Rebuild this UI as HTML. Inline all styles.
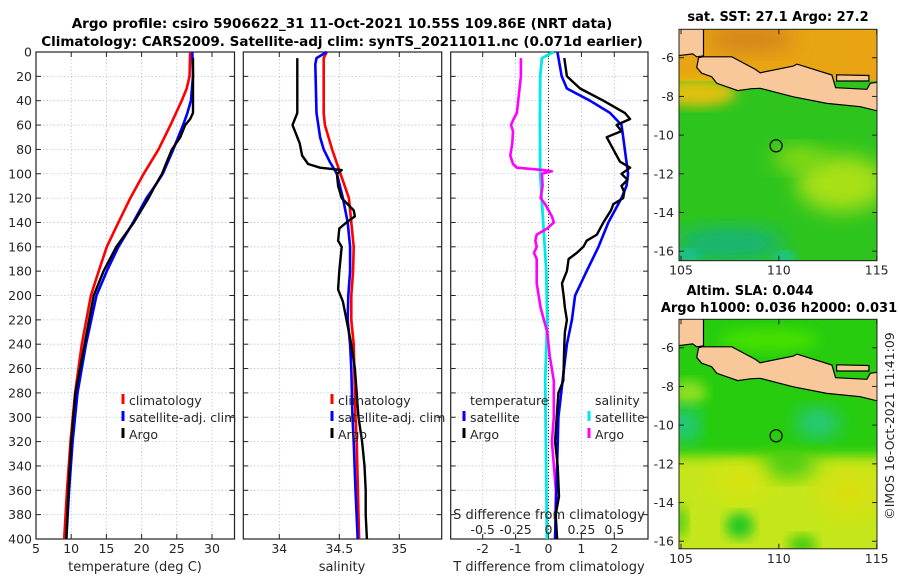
<!DOCTYPE html>
<html><head><meta charset="utf-8">
<style>
html,body{margin:0;padding:0;background:#fff;}
svg{display:block;font-family:"DejaVu Sans","Liberation Sans",sans-serif;}
</style></head>
<body>
<svg id="fig" width="900" height="580" viewBox="0 0 900 580" xmlns="http://www.w3.org/2000/svg">
<defs>
<filter id="blur6" x="-20%" y="-20%" width="140%" height="140%"><feGaussianBlur stdDeviation="6"/></filter>
<filter id="blur10" x="-30%" y="-30%" width="160%" height="160%"><feGaussianBlur stdDeviation="10"/></filter>
<clipPath id="clipTop"><rect x="679" y="29" width="198" height="232"/></clipPath>
<clipPath id="clipBot"><rect x="679" y="319" width="198" height="230"/></clipPath>
</defs>
<g id="titles" font-weight="bold" font-size="13.5" text-anchor="middle" fill="#000">
<text x="342" y="28">Argo profile: csiro 5906622_31 11-Oct-2021 10.55S 109.86E (NRT data)</text>
<text x="342" y="46">Climatology: CARS2009. Satellite-adj clim: synTS_20211011.nc (0.071d earlier)</text>
</g>
</svg>
<script>
// ---------- data ----------
const depthTicks = [0,20,40,60,80,100,120,140,160,180,200,220,240,260,280,300,320,340,360,380,400];
const tempTicks = [5,10,15,20,25,30];
const salTicks = [34,34.5,35];
const salTickLabels = ["34","34.5","35"];
const tdiffTicks = [-2,-1,0,1,2];
const sdiffTicks = [-0.5,-0.25,0,0.25,0.5];
const sdiffTickLabels = ["-0.5","-0.25","0","0.25","0.5"];

const tDepthClim = [0,20,30,40,60,80,100,120,140,160,180,200,240,280,320,360,400];
const tClim = [26.9,26.8,26.4,25.7,24.1,22.4,20.3,18.4,16.7,15.05,13.9,12.8,11.5,10.55,9.9,9.4,9.0];
const tDepthSat = [0,20,40,50,60,80,100,110,120,140,160,180,200,240,280,320,360,400];
const tSat = [27.2,27.3,27.0,26.5,25.9,24.5,23.0,21.9,20.7,18.8,16.7,15.05,13.6,12.1,10.9,10.2,9.7,9.3];
const tDepthArgo = [5,50,55,60,70,80,90,100,110,120,140,160,180,200,240,280,320,360,400];
const tArgo = [27.3,27.3,26.9,26.2,25.5,24.3,23.6,22.9,21.9,21.0,18.9,16.4,14.6,13.2,11.9,10.6,10.0,9.6,9.3];

const sDepthClim = [0,5,50,60,80,100,120,140,160,180,200,220,240,260,280,300,320,360,400];
const sClim = [34.395,34.37,34.37,34.38,34.44,34.51,34.58,34.60,34.62,34.615,34.60,34.60,34.62,34.625,34.63,34.635,34.645,34.655,34.665];
const sDepthSat = [0,5,10,50,70,80,90,100,120,140,160,180,200,220,240,260,280,300,320,360,400];
const sSat = [34.395,34.31,34.30,34.31,34.34,34.37,34.42,34.48,34.53,34.57,34.59,34.59,34.575,34.57,34.59,34.60,34.605,34.61,34.62,34.635,34.653];
const sDepthArgo = [5,50,55,60,65,75,85,92,95,97,100,110,120,130,135,140,145,155,160,180,195,205,220,240,260,280,300,320,340,360,380,400];
const sArgo = [34.15,34.15,34.13,34.11,34.13,34.17,34.19,34.24,34.34,34.52,34.48,34.49,34.52,34.62,34.63,34.56,34.50,34.49,34.52,34.50,34.49,34.53,34.56,34.60,34.63,34.645,34.66,34.69,34.71,34.72,34.72,34.73];

const dtDepthSat = [0,20,30,40,50,60,70,80,100,110,120,140,160,180,200,220,240,270,300,340,400];
const dtSat = [0.27,0.4,0.56,1.26,1.87,2.22,2.27,2.32,2.42,2.37,2.22,1.82,1.52,1.16,0.81,0.71,0.56,0.43,0.3,0.26,0.2];
const dtDepthArgo = [5,20,30,40,50,55,60,65,70,80,90,95,100,105,110,115,120,125,130,140,150,155,160,165,170,180,190,200,210,220,230,240,270,280,300,320,340,365,380,400];
const dtArgo = [0.48,0.56,0.96,1.67,2.32,2.48,2.07,2.22,1.77,1.97,2.17,2.48,2.22,2.4,2.22,2.3,2.27,1.97,1.9,1.67,1.47,1.16,1.06,0.86,0.61,0.56,0.41,0.46,0.5,0.56,0.5,0.48,0.45,0.3,0.25,0.2,0.28,0.32,0.22,0.26];
const dsDepthSat = [0,5,20,60,100,140,180,220,270,400];
const dsSat = [0.04,-0.05,-0.063,-0.065,-0.063,-0.04,-0.017,-0.01,-0.025,-0.012];
const dsDepthArgo = [5,20,40,50,55,60,65,75,85,92,95,97,98,100,110,120,125,135,140,145,150,155,160,165,170,190,210,230,250,270,300,320,360,400];
const dsArgo = [-0.21,-0.21,-0.23,-0.24,-0.265,-0.285,-0.27,-0.275,-0.29,-0.27,-0.24,-0.04,0.025,-0.05,-0.045,-0.06,-0.025,0.026,0.04,-0.01,-0.09,-0.1,-0.09,-0.11,-0.09,-0.09,-0.06,-0.01,0.01,0.04,0.04,0.026,0.056,0.05];

const lonTicks = [105,110,115];
const latTicks = [-6,-8,-10,-12,-14,-16];
const argoLon = 109.86;
const argoLat = -10.55;
const javaCoast = [[106.1,-5.95],[107.6,-5.95],[108.8,-6.6],[109.04,-6.78],[110.74,-6.43],[110.92,-6.33],[112.71,-6.89],[112.9,-7.55],[114.5,-7.63],[114.67,-7.32],[115.2,-7.24],[115.2,-8.79],[114.16,-8.53],[112.45,-8.36],[110.74,-8.02],[109.04,-7.58],[108.6,-7.6],[107.9,-7.7],[106.83,-7.32],[106.57,-6.98],[106.06,-6.8],[105.8,-6.5],[105.9,-6.0]];
const maduraCoast = [[112.95,-6.88],[114.6,-6.92],[114.6,-7.2],[112.95,-7.2]];
const sumatraCoast = [[104.8,-4.4],[106.15,-4.4],[106.15,-5.9],[105.8,-5.95],[105.6,-5.8],[104.8,-5.9]];

// ---------- helpers ----------
const NS = "http://www.w3.org/2000/svg";
const svg = document.getElementById('fig');
function mk(tag, attrs, parent){
  const e = document.createElementNS(NS, tag);
  for (const k in attrs) e.setAttribute(k, attrs[k]);
  (parent||svg).appendChild(e);
  return e;
}
const Y0 = 52, Y1 = 539;
function yD(d){ return Y0 + (d/400)*(Y1-Y0); }
function lin(v0,v1,p0,p1){ return v => p0 + (v-v0)/(v1-v0)*(p1-p0); }

const xT = lin(5,30,36,212);
const xS = lin(34,35,279.3,399.3);
const xTd = lin(-2,2,482.7,614.3);
const xSd = lin(-0.5,0.5,482.7,614.3);

function panel(name, x0, x1, xTickVals, xf, showDepthLabels){
  const g = mk('g', {});
  
  
  xTickVals.forEach(v => {
    const gl = mk('line', {x1:xf(v), x2:xf(v), y1:Y0, y2:Y1, stroke:'#b8c4e4', 'stroke-width':0.8, 'stroke-dasharray':'1.5,2'}, g);
    
    
  });
  depthTicks.forEach(d => {
    const gl = mk('line', {x1:x0, x2:x1, y1:yD(d), y2:yD(d), stroke:'#b8c4e4', 'stroke-width':0.8, 'stroke-dasharray':'1.5,2'}, g);
    
    
    mk('line', {x1:x0, x2:x0+5, y1:yD(d), y2:yD(d), stroke:'#222', 'stroke-width':1}, g);
    mk('line', {x1:x1-5, x2:x1, y1:yD(d), y2:yD(d), stroke:'#222', 'stroke-width':1}, g);
    if (showDepthLabels){
      const t = mk('text', {x:x0-4, y:yD(d)+4.5, 'text-anchor':'end', 'font-size':12.5, fill:'#262626'}, g);
      t.textContent = d;
      
      
    }
  });
  xTickVals.forEach(v => {
    mk('line', {x1:xf(v), x2:xf(v), y1:Y1, y2:Y1-5, stroke:'#222', 'stroke-width':1}, g);
    mk('line', {x1:xf(v), x2:xf(v), y1:Y0, y2:Y0+5, stroke:'#222', 'stroke-width':1}, g);
  });
  const fr = mk('rect', {x:x0, y:Y0, width:x1-x0, height:Y1-Y0, fill:'none', stroke:'#222', 'stroke-width':1.2}, g);
  
  
  return g;
}
function series(g, name, depths, vals, xf, color, w){
  const pts = depths.map((d,i) => xf(vals[i]).toFixed(1)+','+yD(d).toFixed(1)).join(' ');
  const p = mk('polyline', {points:pts, fill:'none', stroke:color, 'stroke-width':w||2.6, 'stroke-linejoin':'round'}, g);
  
  
}
function label(g, name, x, y, txt, opts){
  const a = Object.assign({x:x, y:y, 'font-size':12.5, fill:'#262626'}, opts||{});
  const t = mk('text', a, g);
  t.textContent = txt;
  
  
  return t;
}
function legendEntry(g, name, x, y, color, txt){
  const m = mk('line', {x1:x, x2:x, y1:y-11, y2:y-1, stroke:color, 'stroke-width':3}, g);
  
  
  const t = label(g, name, x+6, y, txt, {'font-size':12.5});
  
}

// ---------- panel 1: temperature ----------
const p1 = panel('temperature-panel', 36, 234.5, tempTicks, xT, true);
series(p1, 'temperature-climatology-line', tDepthClim, tClim, xT, '#ff0000');
series(p1, 'temperature-satellite-line', tDepthSat, tSat, xT, '#0000ff');
series(p1, 'temperature-argo-line', tDepthArgo, tArgo, xT, '#000000', 2.4);
tempTicks.forEach(v => label(p1, 'temperature-tick-label', xT(v), 553, String(v), {'text-anchor':'middle'}));
label(p1, 'temperature-axis-title', 135, 571, 'temperature (deg C)', {'text-anchor':'middle','font-size':13});
legendEntry(p1, 'legend-climatology', 123, 405, '#ff0000', 'climatology');
legendEntry(p1, 'legend-satellite-adj', 123, 422, '#0000ff', 'satellite-adj. clim');
legendEntry(p1, 'legend-argo', 123, 439, '#000000', 'Argo');

// ---------- panel 2: salinity ----------
const p2 = panel('salinity-panel', 243.3, 441.7, salTicks, xS, false);
series(p2, 'salinity-climatology-line', sDepthClim, sClim, xS, '#ff0000');
series(p2, 'salinity-satellite-line', sDepthSat, sSat, xS, '#0000ff');
series(p2, 'salinity-argo-line', sDepthArgo, sArgo, xS, '#000000', 2.4);
salTicks.forEach((v,i) => label(p2, 'salinity-tick-label', xS(v), 553, salTickLabels[i], {'text-anchor':'middle'}));
label(p2, 'salinity-axis-title', 342, 571, 'salinity', {'text-anchor':'middle','font-size':13});
legendEntry(p2, 'legend-climatology-s', 332, 405, '#ff0000', 'climatology');
legendEntry(p2, 'legend-satellite-adj-s', 332, 422, '#0000ff', 'satellite-adj. clim');
legendEntry(p2, 'legend-argo-s', 332, 439, '#000000', 'Argo');

// ---------- panel 3: differences ----------
const p3 = panel('difference-panel', 450.7, 648, tdiffTicks, xTd, false);
const zl = mk('line', {x1:xTd(0), x2:xTd(0), y1:Y0, y2:Y1, stroke:'#333', 'stroke-width':1, 'stroke-dasharray':'1,2'}, p3);


series(p3, 'salinity-diff-satellite-line', dsDepthSat, dsSat, xSd, '#00e8e8', 2.8);
series(p3, 'salinity-diff-argo-line', dsDepthArgo, dsArgo, xSd, '#ff00ff', 2.6);
series(p3, 'temperature-diff-satellite-line', dtDepthSat, dtSat, xTd, '#0000ff', 2.6);
series(p3, 'temperature-diff-argo-line', dtDepthArgo, dtArgo, xTd, '#000000', 2.4);
tdiffTicks.forEach(v => label(p3, 'tdiff-tick-label', xTd(v), 553, String(v), {'text-anchor':'middle'}));
label(p3, 'tdiff-axis-title', 549, 571, 'T difference from climatology', {'text-anchor':'middle','font-size':13});
label(p3, 'sdiff-axis-title', 549, 519, 'S difference from climatology', {'text-anchor':'middle','font-size':13});
sdiffTicks.forEach((v,i) => label(p3, 'sdiff-tick-label', xSd(v), 534, sdiffTickLabels[i], {'text-anchor':'middle'}));
label(p3, 'legend-temperature-heading', 470, 405, 'temperature');
legendEntry(p3, 'legend-tdiff-satellite', 464, 422, '#0000ff', 'satellite');
legendEntry(p3, 'legend-tdiff-argo', 464, 439, '#000000', 'Argo');
label(p3, 'legend-salinity-heading', 595, 405, 'salinity');
legendEntry(p3, 'legend-sdiff-satellite', 589, 422, '#00e8e8', 'satellite');
legendEntry(p3, 'legend-sdiff-argo', 589, 439, '#ff00ff', 'Argo');

// ---------- maps ----------
const lonX = lin(105,115,681,876.7);
function latY(top){ return lat => top + (-4.53 - lat)*19.35; }
function poly(g, name, coords, ly, fill){
  const pts = coords.map(c => lonX(c[0]).toFixed(1)+','+ly(c[1]).toFixed(1)).join(' ');
  const p = mk('polygon', {points:pts, fill:fill, stroke:'#000', 'stroke-width':1.2}, g);
  
  
}
function blob(g, lon, lat, rx, ry, color, ly, filt){
  mk('ellipse', {cx:lonX(lon), cy:ly(lat), rx:rx, ry:ry, fill:color, filter:'url(#'+(filt||'blur10')+')'}, g);
}
function mapFrame(name, top, h, ly, clipId, fields){
  const g = mk('g', {});
  
  
  const c = mk('g', {'clip-path':'url(#'+clipId+')'}, g);
  fields(c, ly);
  poly(c, 'sumatra-land', sumatraCoast, ly, '#f9c89a');
  poly(c, 'java-land', javaCoast, ly, '#f9c89a');
  poly(c, 'madura-land', maduraCoast, ly, '#f9c89a');
  const m = mk('circle', {cx:lonX(argoLon), cy:ly(argoLat), r:6, fill:'none', stroke:'#000', 'stroke-width':1.2}, g);
  
  
  mk('rect', {x:679, y:top, width:198, height:h, fill:'none', stroke:'#222', 'stroke-width':1}, g);
  latTicks.forEach(v => {
    mk('line', {x1:679, x2:684, y1:ly(v), y2:ly(v), stroke:'#222'}, g);
    mk('line', {x1:872, x2:877, y1:ly(v), y2:ly(v), stroke:'#222'}, g);
    label(g, 'latitude-tick-label', 674, ly(v)+4.5, String(v), {'text-anchor':'end'});
  });
  lonTicks.forEach(v => {
    mk('line', {x1:lonX(v), x2:lonX(v), y1:top+h, y2:top+h-5, stroke:'#222'}, g);
    mk('line', {x1:lonX(v), x2:lonX(v), y1:top, y2:top+5, stroke:'#222'}, g);
    label(g, 'longitude-tick-label', lonX(v), top+h+14, String(v), {'text-anchor':'middle'});
  });
  return g;
}
mapFrame('sst-map', 29.3, 231.4, latY(29.3), 'clipTop', (c, ly) => {
  mk('rect', {x:679, y:29, width:198, height:232, fill:'#2ec41e'}, c);
  mk('rect', {x:670, y:20, width:220, height:ly(-7.2)-20, fill:'#e8a412'}, c);
  blob(c, 108.5, -5.0, 45, 14, '#d4841a', ly);
  blob(c, 105.8, -7.8, 40, 14, '#e0c010', ly, 'blur6');
  blob(c, 112.8, -8.4, 60, 6, '#2ec41e', ly, 'blur6');
  blob(c, 113.2, -12.5, 45, 28, '#a8e012', ly);
  blob(c, 111.0, -11.2, 25, 12, '#90dc18', ly);
  blob(c, 107.5, -15.6, 55, 16, '#12b47a', ly);
  blob(c, 110.3, -16.3, 10, 5, '#18c8d8', ly, 'blur6');
  blob(c, 105.3, -16.2, 14, 5, '#18c0c8', ly, 'blur6');
});
label(svg, 'sst-map-title', 778, 21, 'sat. SST: 27.1 Argo: 27.2', {'text-anchor':'middle','font-weight':'bold','font-size':13,fill:'#000'});

mapFrame('sla-map', 319.3, 229.5, latY(319.3), 'clipBot', (c, ly) => {
  mk('rect', {x:679, y:319, width:198, height:232, fill:'#c6e61c'}, c);
  mk('rect', {x:660, y:300, width:240, height:ly(-11.6)-300, fill:'#28cc10', filter:'url(#blur6)'}, c);
  blob(c, 109.5, -5.6, 50, 12, '#44e000', ly, 'blur6');
  blob(c, 105.4, -8.3, 18, 12, '#8ee020', ly, 'blur6');
  blob(c, 105.2, -10.0, 14, 16, '#20c8a0', ly);
  blob(c, 112.0, -9.9, 22, 14, '#28c890', ly);
  blob(c, 110.5, -12.0, 28, 14, '#40cc10', ly);
  blob(c, 108.0, -12.9, 28, 16, '#d8e410', ly);
  blob(c, 113.6, -13.5, 30, 22, '#d8e010', ly);
  blob(c, 108.0, -15.2, 14, 13, '#20c820', ly, 'blur6');
  blob(c, 111.2, -16.2, 14, 10, '#40cc10', ly, 'blur6');
  blob(c, 104.9, -15.0, 8, 16, '#50d010', ly, 'blur6');
});
label(svg, 'sla-map-title-line-1', 750, 295, 'Altim. SLA: 0.044', {'text-anchor':'middle','font-weight':'bold','font-size':13,fill:'#000'});
label(svg, 'sla-map-title-line-2', 779, 312, 'Argo h1000: 0.036 h2000: 0.031', {'text-anchor':'middle','font-weight':'bold','font-size':13,fill:'#000'});
label(svg, 'imos-timestamp', 0, 0, '©IMOS 16-Oct-2021 11:41:09', {'text-anchor':'middle','font-size':12.5, transform:'translate(894,426) rotate(-90)'});
</script>
</body></html>
